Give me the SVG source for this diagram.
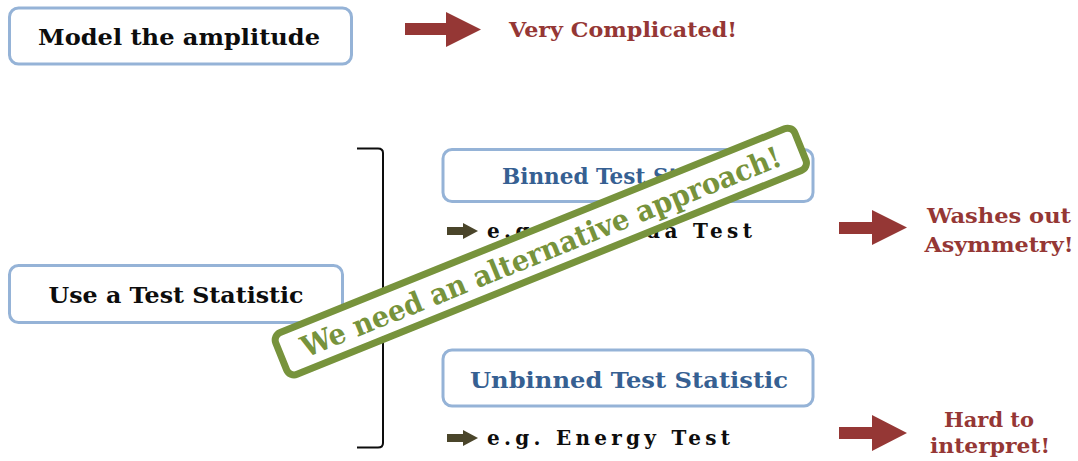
<svg xmlns="http://www.w3.org/2000/svg" width="1078" height="461" viewBox="0 0 1078 461">
  <defs>
    <style>
      .box { fill: #ffffff; stroke: #95b3d7; stroke-width: 3; }
      .t { font-family: "DejaVu Serif", "Liberation Serif", serif; font-weight: bold; }
      .blk { fill: #0d0d0d; font-size: 23px; }
      .blue { fill: #366092; font-size: 22px; }
      .red { fill: #953735; font-size: 20px; }
      .eg { fill: #0d0d0d; font-size: 20px; }
      .bigarrow { fill: #953735; }
      .smallarrow { fill: #4a452a; }
      .banner { fill: #ffffff; stroke: #77933c; stroke-width: 7; }
      .bantext { fill: #77933c; font-size: 29px; }
    </style>
  </defs>
  <rect width="1078" height="461" fill="#ffffff"/>

  <g id="node-model">
    <rect class="box" x="9.5" y="8" width="342" height="56" rx="9"/>
    <text class="t blk" x="179" y="45" text-anchor="middle" textLength="282" lengthAdjust="spacingAndGlyphs">Model the amplitude</text>
  </g>

  <g id="node-very-complicated">
    <text class="t red" x="509" y="37" textLength="228" lengthAdjust="spacingAndGlyphs">Very Complicated!</text>
  </g>

  <g id="node-use-test">
    <rect class="box" x="9.5" y="265.5" width="333" height="57" rx="9"/>
    <text class="t blk" x="176" y="303" text-anchor="middle" textLength="255" lengthAdjust="spacingAndGlyphs">Use a Test Statistic</text>
  </g>

  <g id="node-binned">
    <rect class="box" x="443" y="149.5" width="370" height="52" rx="9"/>
    <text class="t blue" x="628" y="184" text-anchor="middle" textLength="252" lengthAdjust="spacingAndGlyphs">Binned Test Statistic</text>
  </g>

  <g id="node-binned-eg">
    <text class="t eg" x="487" y="238" textLength="265" lengthAdjust="spacing">e.g. Miranda Test</text>
  </g>

  <g id="node-unbinned">
    <rect class="box" x="443" y="350" width="370" height="56" rx="9"/>
    <text class="t blue" x="629" y="388" text-anchor="middle" textLength="318" lengthAdjust="spacingAndGlyphs">Unbinned Test Statistic</text>
  </g>

  <g id="node-unbinned-eg">
    <text class="t eg" x="487" y="445" textLength="243" lengthAdjust="spacing">e.g. Energy Test</text>
  </g>

  <g id="node-washes">
    <text class="t red" x="999" y="223" text-anchor="middle" textLength="144" lengthAdjust="spacingAndGlyphs">Washes out</text>
    <text class="t red" x="999" y="252" text-anchor="middle" textLength="149" lengthAdjust="spacingAndGlyphs">Asymmetry!</text>
  </g>

  <g id="node-hard">
    <text class="t red" x="989" y="427" text-anchor="middle" textLength="90" lengthAdjust="spacingAndGlyphs">Hard to</text>
    <text class="t red" x="990" y="453" text-anchor="middle" textLength="120" lengthAdjust="spacingAndGlyphs">interpret!</text>
  </g>

  <g id="connectors">
    <path class="bigarrow" d="M405,23 H446 V12 L481,29.5 L446,47 V35 H405 Z"/>
    <path class="bigarrow" d="M839,222 H872 V210 L907,227.5 L872,245 V234 H839 Z"/>
    <path class="bigarrow" d="M839,427 H872 V415 L907,433 L872,451 V439 H839 Z"/>
    <path class="smallarrow" d="M447,227 H463 V223 L478,231 L463,239 V235 H447 Z"/>
    <path class="smallarrow" d="M447,434 H463 V430 L478,438 L463,446 V442 H447 Z"/>
    <path d="M357,148.5 H378 Q383,148.5 383,153 V443 Q383,447.5 378,447.5 H357" fill="none" stroke="#0d0d0d" stroke-width="2"/>
  </g>

  <g id="node-banner" transform="translate(541,252) rotate(-22)">
    <rect class="banner" x="-280" y="-23" width="560" height="45" rx="8"/>
    <text class="t bantext" x="0" y="10" text-anchor="middle" textLength="515" lengthAdjust="spacingAndGlyphs">We need an alternative approach!</text>
  </g>
</svg>
